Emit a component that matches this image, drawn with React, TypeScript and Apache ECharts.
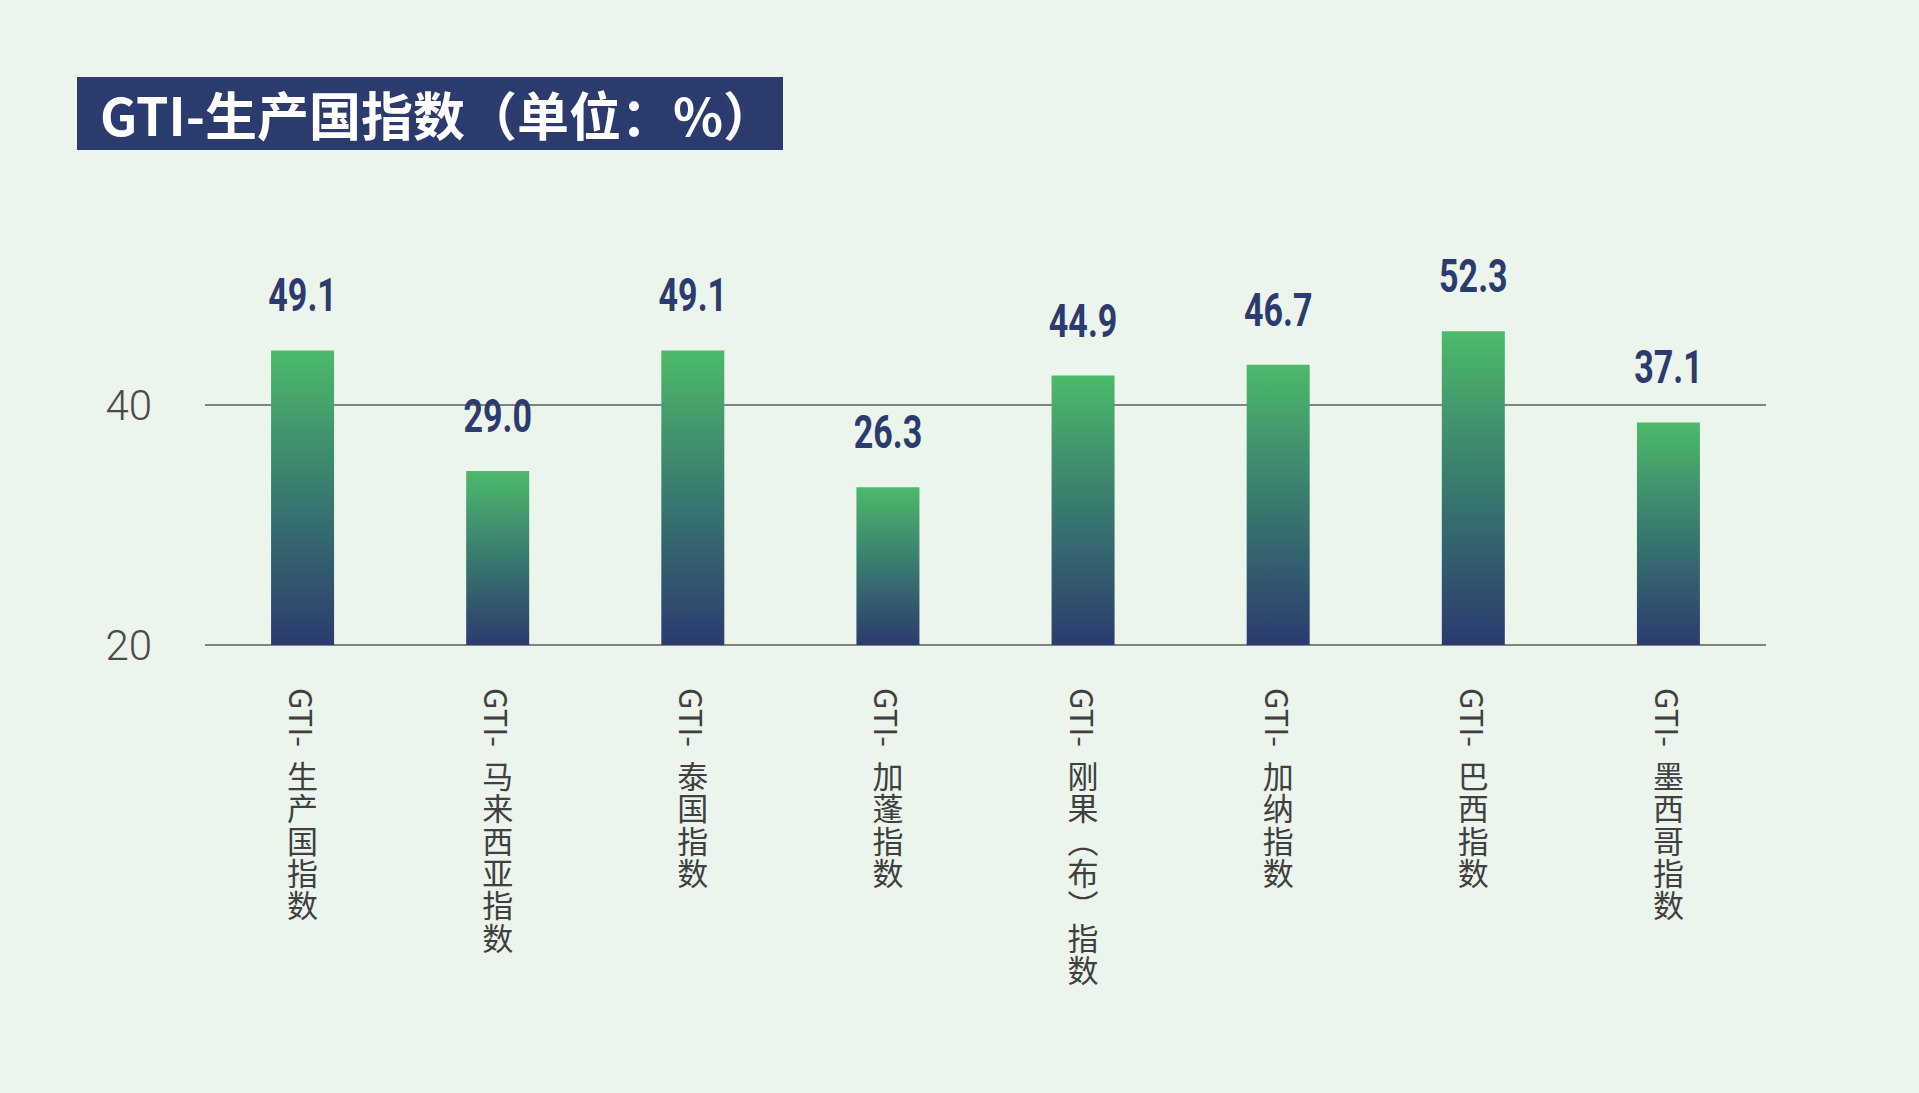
import React, { useEffect, useRef } from "react";
import * as echarts from "echarts";

const categories = [
  "GTI-生产国指数",
  "GTI-马来西亚指数",
  "GTI-泰国指数",
  "GTI-加蓬指数",
  "GTI-刚果（布）指数",
  "GTI-加纳指数",
  "GTI-巴西指数",
  "GTI-墨西哥指数",
];
const values = [49.1, 29.0, 49.1, 26.3, 44.9, 46.7, 52.3, 37.1];
const yTickValues = [0, 40];
const yTickLabels = ["20", "40"];
const titleText = "GTI-生产国指数（单位：%）";

const PREFIX = "GTI-";
const NUM_FONT = '"Roboto", "Liberation Sans", sans-serif';
const CJK_FONT = '"Noto Sans CJK SC", "Noto Sans", sans-serif';

const verticalForm = (c: string) => (c === "（" ? "︵" : c === "）" ? "︶" : c);

export default function App() {
  const ref = useRef<HTMLDivElement>(null);
  useEffect(() => {
    document.body.style.margin = "0";
    const chart = echarts.init(ref.current!, undefined, { renderer: "svg" });
    chart.setOption({
      animation: false,
      backgroundColor: "#ebf5eb",
      graphic: [
        {
          type: "rect",
          left: 77,
          top: 77,
          shape: { width: 706, height: 73 },
          style: { fill: "#2c3b6e" },
        },
        {
          type: "text",
          left: 100,
          top: 87,
          style: {
            text: titleText,
            fill: "#ffffff",
            font: `bold 52px ${CJK_FONT}`,
          },
        },
      ],
      grid: { left: 205, right: 153, top: 405, height: 240 },
      xAxis: [
        {
          type: "category",
          data: categories,
          position: "bottom",
          axisLine: { show: false },
          axisTick: { show: false },
          axisLabel: {
            interval: 0,
            rotate: -90,
            margin: 43,
            color: "#404040",
            fontSize: 31,
            fontFamily: CJK_FONT,
            formatter: (v: string) => (v.startsWith(PREFIX) ? PREFIX : v),
          },
        },
        {
          type: "category",
          data: categories,
          position: "bottom",
          axisLine: { show: false },
          axisTick: { show: false },
          axisLabel: {
            interval: 0,
            margin: 113,
            color: "#404040",
            fontSize: 31,
            lineHeight: 32.4,
            fontFamily: CJK_FONT,
            formatter: (v: string) =>
              (v.startsWith(PREFIX) ? v.slice(PREFIX.length) : v)
                .split("")
                .map(verticalForm)
                .join("\n"),
          },
        },
      ],
      yAxis: {
        type: "value",
        min: 0,
        max: 40,
        interval: 40,
        axisLine: { show: false },
        axisTick: { show: false },
        splitLine: { show: true, lineStyle: { color: "#5a5e5b", width: 1.6 } },
        axisLabel: {
          margin: 53,
          color: "#4a4a4a",
          fontSize: 42,
          fontWeight: 300,
          fontFamily: NUM_FONT,
          formatter: (v: number) => {
            const i = yTickValues.indexOf(v);
            return i >= 0 ? yTickLabels[i] : "";
          },
        },
      },
      series: [
        {
          type: "bar",
          xAxisIndex: 0,
          data: values,
          barWidth: 63,
          clip: false,
          itemStyle: {
            color: new echarts.graphic.LinearGradient(0, 0, 0, 1, [
              { offset: 0, color: "#4cba6a" },
              { offset: 0.5, color: "#38796f" },
              { offset: 1, color: "#2c3b6e" },
            ]),
          },
        },
        {
          type: "custom",
          xAxisIndex: 0,
          data: values.map((v, i) => [i, v]),
          clip: false,
          silent: true,
          renderItem: (params: any, api: any) => {
            const p = api.coord([api.value(0), api.value(1)]);
            return {
              type: "text",
              x: p[0],
              y: p[1] - 32,
              scaleX: 0.74,
              style: {
                text: Number(api.value(1)).toFixed(1),
                fill: "#2c3b6e",
                font: `bold 46px ${NUM_FONT}`,
                align: "center",
                verticalAlign: "bottom",
              },
            };
          },
        },
      ],
    });
    return () => chart.dispose();
  }, []);
  return <div ref={ref} style={{ width: 1919, height: 1093 }} />;
}
